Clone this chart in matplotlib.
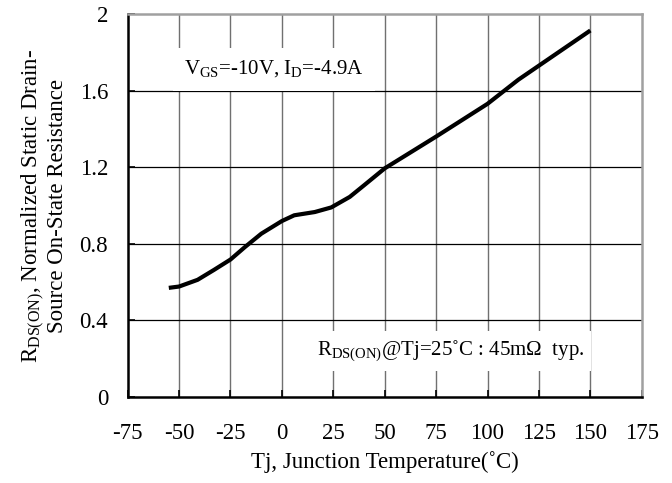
import matplotlib.pyplot as plt

plt.rcParams["font.family"] = ["Liberation Serif", "DejaVu Serif"]
plt.rcParams["mathtext.fontset"] = "custom"
plt.rcParams["mathtext.rm"] = "Liberation Serif"
plt.rcParams["axes.unicode_minus"] = False

# curve
temp_c = [-55, -50, -41, -33, -25, -18, -10, 0, 6, 16, 24, 33, 40, 50, 75, 100, 115, 150]
r_norm = [0.570, 0.577, 0.612, 0.664, 0.718, 0.783, 0.853, 0.919, 0.949, 0.966,
          0.990, 1.045, 1.106, 1.194, 1.360, 1.531, 1.657, 1.914]

x_ticks = [-75, -50, -25, 0, 25, 50, 75, 100, 125, 150, 175]
y_ticks = [0, 0.4, 0.8, 1.2, 1.6, 2.0]
y_tick_labels = ["0", "0.4", "0.8", "1.2", "1.6", "2"]

fig = plt.figure(figsize=(6.72, 4.83), dpi=100)
ax = fig.add_axes([0.19, 0.178, 0.765, 0.793])

for xt in x_ticks[1:-1]:
    ax.axvline(xt, color="#707070", lw=1.0, zorder=1)
for yt in y_ticks[1:-1]:
    ax.axhline(yt, color="black", lw=0.9, zorder=1)

ax.plot(temp_c, r_norm, color="black", lw=3.0, solid_capstyle="butt", zorder=3)

ax.set_xlim(-75, 175)
ax.set_ylim(0, 2)
ax.set_xticks(x_ticks)
ax.set_yticks(y_ticks)
ax.set_yticklabels(y_tick_labels)
ax.tick_params(direction="in", length=5, width=1.2, labelsize=16.5)
ax.tick_params(axis="x", pad=19)
ax.tick_params(axis="y", pad=14)

for side in ("left", "bottom"):
    ax.spines[side].set_color("black")
    ax.spines[side].set_linewidth(1.8)
for side in ("top", "right"):
    ax.spines[side].set_color("#a0a0a0")
    ax.spines[side].set_linewidth(1.8)

ax.set_xlabel("Tj, Junction Temperature(˚C)", fontsize=16.5, labelpad=5)
ax.set_ylabel(r"R$_{\rm DS(ON)}$, Normalized Static Drain-" + "\nSource On-State Resistance",
              fontsize=16.5, labelpad=8, linespacing=1.0)

ax.text(-4, 1.71, r"V$_{\rm GS}$=-10V, I$_{\rm D}$=-4.9A", fontsize=15,
        ha="center", va="center", zorder=4,
        bbox=dict(facecolor="white", edgecolor="none", pad=8))
ax.text(82, 0.24, r"R$_{\rm DS(ON)}$@Tj=25˚C : 45m$\Omega$  typ.", fontsize=15,
        ha="center", va="center", zorder=4,
        bbox=dict(facecolor="white", edgecolor="none", pad=5))

fig.savefig("out.png", dpi=100)
